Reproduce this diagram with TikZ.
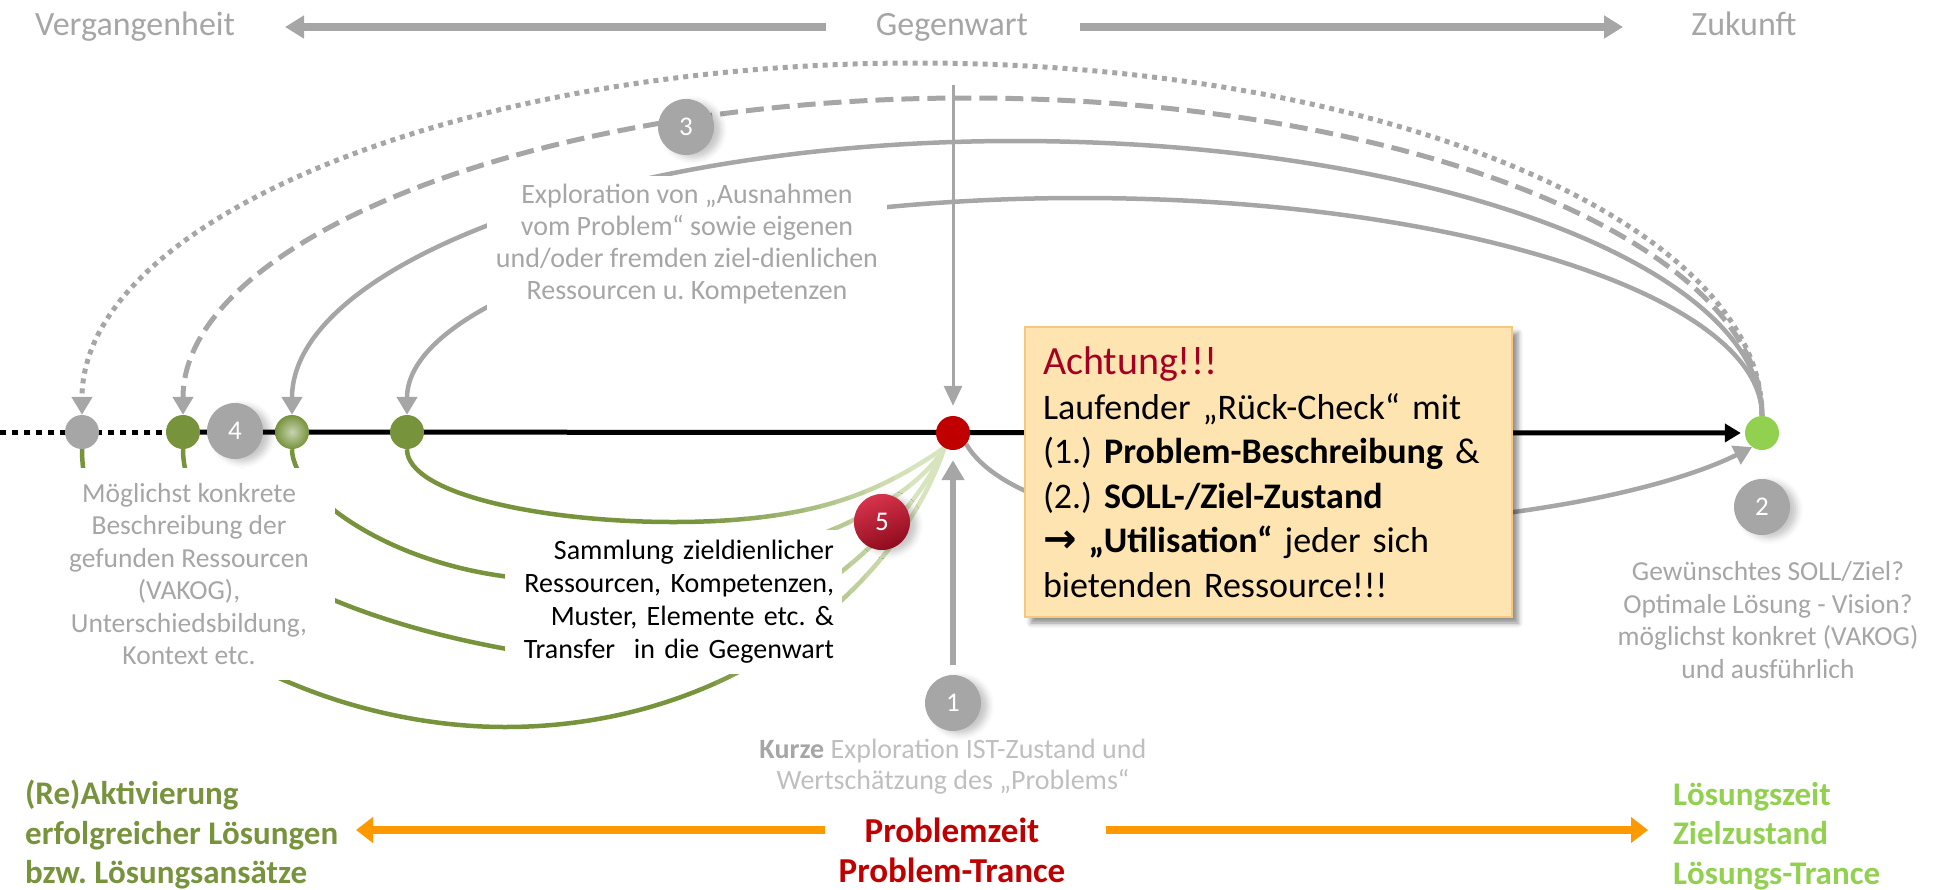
\documentclass[tikz,border=0pt]{standalone}
\usepackage{fontspec}
\setmainfont{Carlito}
\newfontfamily\arrowfont{DejaVu Sans}
\usetikzlibrary{arrows.meta,shadows.blur}
\frenchspacing

\definecolor{lgray}{HTML}{A6A6A6}
\definecolor{pgray}{HTML}{BFBFBF}
\definecolor{oliv}{HTML}{77933C}
\definecolor{paleg}{HTML}{D7E4BD}
\definecolor{limeg}{HTML}{92D050}
\definecolor{dred}{HTML}{C00000}
\definecolor{achtred}{HTML}{A50021}
\definecolor{orangeA}{HTML}{FF9900}
\definecolor{noteFill}{HTML}{FDE4B1}
\definecolor{noteEdge}{HTML}{F6C77E}
\definecolor{redTop}{HTML}{D8344C}
\definecolor{redBot}{HTML}{8E0B1D}

\pgfdeclarelayer{arcs}
\pgfdeclarelayer{masks}
\pgfdeclarelayer{lines}
\pgfsetlayers{arcs,masks,lines,main}

\tikzset{
  dot/.style={circle, inner sep=0pt, minimum size=34pt},
  numdot/.style={circle, inner sep=0pt, minimum size=56pt, fill=lgray, text=white,
    font=\fontsize{27}{27}\selectfont,
    blur shadow={shadow xshift=7pt, shadow yshift=-3pt, shadow blur radius=6pt, shadow opacity=22}},
  greytext/.style={text=lgray, align=center, font=\fontsize{27.5}{32.5}\selectfont},
  masked/.style={fill=white, inner sep=0pt},
  toplabel/.style={text=lgray, font=\fontsize{34}{34}\selectfont, text height=24pt, text depth=8pt, inner sep=0pt},
  toparrow/.style={draw=lgray, line width=8pt, -{Triangle[length=19pt,width=22pt]}},
  timearrow/.style={draw=orangeA, line width=8pt, -{Triangle[length=17pt,width=25pt]}},
  arcbase/.style={draw=lgray, line width=4.5pt, -{Triangle[length=18pt,width=20pt]}},
  dottedarc/.style={arcbase, line width=5pt, dash pattern=on 5pt off 5pt},
  dashedarc/.style={arcbase, line width=5pt, dash pattern=on 18pt off 8pt},
  garc/.style={line width=4.5pt},
  zeitbold/.style={font=\fontsize{33}{39.5}\selectfont\bfseries, align=left, inner sep=0pt},
  mainline/.style={line width=5pt, black},
}

% the four resource arcs that lead back to the present
\newcommand\greenarcs[1]{%
  \draw[garc, draw=#1] (p3.south) .. controls +(0,-45) and +(-130,0) .. (673,-522)
        .. controls +(150,0) and +(-60,-40) .. (now.240);
  \draw[garc, draw=#1] (p2.south) .. controls +(0,-50) and +(-150,0) .. (560,-580)
        .. controls +(180,0) and +(-44,-72) .. (now.240);
  \draw[garc, draw=#1] (p1.south) .. controls +(0,-111) and +(-220,22) .. (600,-662)
        .. controls +(160,0) and +(-40,-92) .. (now.240);
  \draw[garc, draw=#1] (p0.south) .. controls +(0,-151) and +(-205,0) .. (505,-727)
        .. controls +(235,0) and +(-44,-132) .. (now.240);
}

\begin{document}
\begin{tikzpicture}[x=1pt,y=1pt]
\useasboundingbox (0,0) rectangle (1943,-889);

% points on the time line
\node[dot, fill=lgray] (p0) at (82,-432) {};
\node[dot, fill=oliv] (p1) at (183,-432) {};
\node[dot, inner color=oliv!40!white, outer color=oliv] (p2) at (292,-432) {};
\node[dot, fill=oliv] (p3) at (407,-432) {};
\node[dot, fill=dred] (now) at (953,-433) {};
\node[dot, fill=limeg] (goal) at (1762,-433) {};

% numbered steps
\node[numdot] (n1) at (953,-703) {1};
\node[numdot] (n2) at (1762,-507) {2};
\node[numdot] (n3) at (686,-127) {3};
\node[numdot] (n4) at (235,-431) {4};
\node[numdot, top color=redTop, bottom color=redBot, shading angle=20] (n5) at (882,-522) {5};

% top axis
\node[toplabel, anchor=base] (gw) at (952,-35) {Gegenwart};
\node[toplabel, anchor=base west] (verg) at (35,-35) {Vergangenheit};
\node[toplabel, anchor=base] (zuk) at (1744,-35) {Zukunft};
\coordinate (pastTop) at (285,-27);
\coordinate (futTop) at (1623,-27);
\draw[toparrow] ([xshift=-50pt]gw.west) -- (pastTop);
\draw[toparrow] ([xshift=52pt]gw.east) -- (futTop);

% bottom axis
\node[zeitbold, text=oliv, anchor=west] (react) at (25,-835)
  {(Re)Aktivierung\\erfolgreicher Lösungen\\bzw. Lösungsansätze};
\node[zeitbold, text=limeg, anchor=west] (sol) at (1673,-836)
  {Lösungszeit\\Zielzustand\\Lösungs-Trance};
\node[font=\fontsize{35}{35}\selectfont\bfseries, text=dred, text height=25pt, text depth=1pt,
      inner sep=0pt, anchor=base] (pz) at (952,-842) {Problemzeit};
\node[font=\fontsize{35}{35}\selectfont\bfseries, text=dred, inner sep=0pt, anchor=base]
      (ptr) at (952,-882) {Problem-Trance};
\coordinate (pastLow) at (356,-830);
\coordinate (futLow) at (1648,-830);
\draw[timearrow] ([xshift=-40pt]pz.west) -- (pastLow);
\draw[timearrow] ([xshift=67pt]pz.east) -- (futLow);

% explanatory texts
\node[greytext] (goaltxt) at (1768,-620)
  {Gewünschtes SOLL/Ziel?\\Optimale Lösung - Vision?\\möglichst konkret (VAKOG)\\und ausführlich};
\node[font=\fontsize{28}{31}\selectfont, text=pgray, align=center] (ist) at (953,-767)
  {\textbf{\color{lgray}Kurze} Exploration IST-Zustand und\\Wertschätzung des „Problems“};

% the note
\node[draw=noteEdge, line width=1.5pt, fill=noteFill, minimum width=487pt, minimum height=290pt,
      text width=451pt, inner xsep=18pt, inner ysep=0pt, align=left, font=\fontsize{36}{44.5}\selectfont,
      blur shadow={shadow xshift=6pt, shadow yshift=-6pt, shadow blur radius=5pt, shadow opacity=45}]
  (note) at (1268.5,-472)
  {{\fontsize{40}{44.5}\selectfont\color{achtred}Achtung!!!}\\
   Laufender „Rück-Check“ mit\\
   (1.) \textbf{Problem-Beschreibung} \&\\
   (2.) \textbf{SOLL-/Ziel-Zustand}\\
   {\arrowfont\bfseries\fontsize{40}{44.5}\selectfont →} \textbf{„Utilisation“} jeder sich\\
   bietenden Ressource!!!};

% text blocks that sit over the arcs
\begin{pgfonlayer}{masks}
  \node[greytext, masked, font=\fontsize{28}{32}\selectfont, minimum width=400pt, minimum height=137pt]
    (expl) at (687,-244)
    {Exploration von „Ausnahmen\\vom Problem“ sowie eigenen\\und/oder fremden ziel-dienlichen\\Ressourcen u. Kompetenzen};
  \node[greytext, masked, minimum width=292pt, minimum height=212pt] (desc) at (189,-574)
    {Möglichst konkrete\\Beschreibung der\\gefunden Ressourcen\\(VAKOG),\\Unterschiedsbildung,\\Kontext etc.};
  \node[masked, font=\fontsize{28}{33}\selectfont, align=right, text width=321pt, inner xsep=8pt,
        minimum height=144pt] (coll) at (673.5,-602)
    {Sammlung zieldienlicher\\Ressourcen, Kompetenzen,\\Muster, Elemente etc. \&\\Transfer\ \ in die Gegenwart};
\end{pgfonlayer}

% arcs from the goal back into the past, and resources brought to the present
\begin{pgfonlayer}{arcs}
  \draw[dottedarc] (goal.north) .. controls +(0,194) and +(465,0) .. (917,-63)
        .. controls +(-459,0) and +(0,194) .. (p0.north);
  \draw[dashedarc] (goal.north) .. controls +(0,175) and +(437,0) .. (967,-98)
        .. controls +(-431,0) and +(0,174) .. (p1.north);
  \draw[arcbase] (goal.north) .. controls +(0,151) and +(411,0) .. (1015,-141)
        .. controls +(-398,0) and +(0,151) .. (p2.north);
  \draw[arcbase] (goal.north) .. controls +(0,120) and +(375,0) .. (1080,-198)
        .. controls +(-370,0) and +(0,119) .. (p3.north);

  \begin{scope}
    \clip (0,0) rectangle (700.5,-889);
    \greenarcs{oliv}
  \end{scope}
  \foreach \i in {0,...,13}{
    \pgfmathsetmacro\mix{100*(\i+0.5)/14}
    \begin{scope}
      \clip (700+15*\i-0.5,0) rectangle (715+15*\i+0.5,-889);
      \greenarcs{paleg!\mix!oliv}
    \end{scope}
  }
  \begin{scope}
    \clip (909.5,0) rectangle (1000,-889);
    \greenarcs{paleg}
  \end{scope}
\end{pgfonlayer}

% time line and the arrows into the present
\begin{pgfonlayer}{lines}
  \coordinate (lineStart) at (0,-432);
  \draw[mainline, dash pattern=on 6pt off 6pt] (lineStart) -- (p1);
  \draw[mainline, -{Triangle[length=16pt,width=18pt]}, shorten >=4pt] (p1) -- (goal);
  \coordinate (gwFoot) at (953,-85);
  \draw[draw=lgray, line width=3pt, -{Triangle[length=20pt,width=18pt]}, shorten >=10pt] (gwFoot) -- (now.north);
  \draw[draw=lgray, line width=6pt, -{Triangle[length=20pt,width=22pt]}, shorten >=10pt, shorten <=10pt] (n1.north) -- (now.south);
  \draw[arcbase] (now.-40) .. controls +(20,-35) and +(-200,0) .. (1260,-528)
        .. controls +(250,0) and +(-80,-40) .. (goal.235);
\end{pgfonlayer}
\end{tikzpicture}
\end{document}
